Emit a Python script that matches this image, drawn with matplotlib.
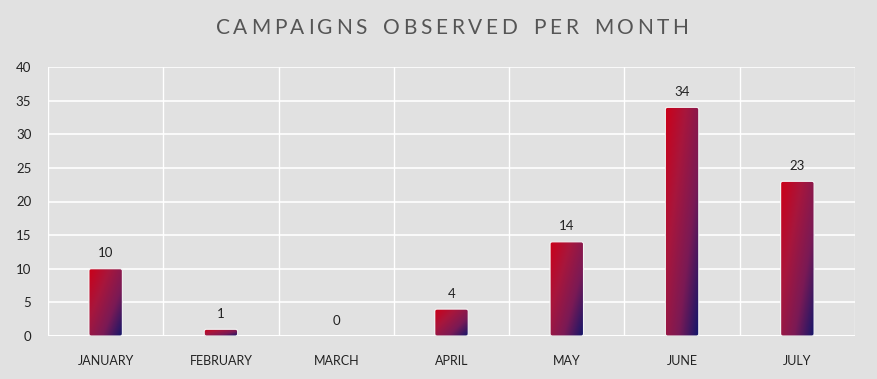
import numpy as np
import matplotlib
matplotlib.use("Agg")
import matplotlib.pyplot as plt
from matplotlib.patches import FancyBboxPatch
from matplotlib.colors import LinearSegmentedColormap

months = ["JANUARY", "FEBRUARY", "MARCH", "APRIL", "MAY", "JUNE", "JULY"]
campaigns = [10, 1, 0, 4, 14, 34, 23]
yticks = [0, 5, 10, 15, 20, 25, 30, 35, 40]
title = "CAMPAIGNS OBSERVED PER MONTH"

bg = "#e1e1e1"
W, H = 877, 379
fig = plt.figure(figsize=(W/100, H/100), dpi=100, facecolor=bg)
ax = fig.add_axes([48/W, 1-336/H, (855-48)/W, (336-67)/H])
ax.set_facecolor(bg)

n = len(months)
x = np.arange(n)
bw = 0.29
ax.set_xlim(-0.5, n-0.5)
ax.set_ylim(0, 40)

for yv in yticks:
    ax.axhline(yv, color="white", lw=1.2, zorder=0)
for b in np.arange(-0.5, n, 1.0):
    ax.axvline(b, color="white", lw=1.0, zorder=0)
ax.axhline(0, color="white", lw=2.0, zorder=1)

cmap = LinearSegmentedColormap.from_list("g", ["#cc0018", "#a8163c", "#7a1a55", "#10166a"])
bars = ax.bar(x, campaigns, width=bw, color="none", zorder=2)
for rect, v in zip(bars, campaigns):
    x0 = rect.get_x(); w = rect.get_width(); h = rect.get_height()
    if h > 0:
        gx, gy = np.meshgrid(np.linspace(0, 1, 60), np.linspace(0, 1, 200))
        t = 0.55 * gx + 0.45 * gy
        img = ax.imshow(t, cmap=cmap, extent=[x0, x0 + w, 0, h], origin="upper",
                        aspect="auto", zorder=3, vmin=0, vmax=1, interpolation="bilinear")
        patch = FancyBboxPatch((x0, 0), w, h, boxstyle="round,pad=0,rounding_size=0.02",
                               mutation_aspect=15, facecolor="none",
                               edgecolor="#f4f4f4", lw=0.8, zorder=4)
        ax.add_patch(patch)
        img.set_clip_path(patch)
    ax.text(rect.get_x() + w/2, v + 1.4, str(v), ha="center", va="bottom",
            fontsize=9.5, color="#222222", family="Lato", zorder=5)

ax.set_aspect("auto")
ax.set_xticks(x)
ax.set_xticklabels(months, fontsize=9, color="#222222", family="Lato")
ax.set_yticks(yticks)
ax.set_yticklabels([str(v) for v in yticks], fontsize=9.5, color="#222222", family="Lato")
ax.tick_params(axis="x", length=0, pad=14)
ax.tick_params(axis="y", length=0, pad=12)
for s in ax.spines.values():
    s.set_visible(False)

# Title with manual letter tracking
renderer = fig.canvas.get_renderer()
tkw = dict(fontsize=15, color="#555555", family="Lato", fontweight="normal", va="center", ha="left")
tracking = 3.6
space_w = 9.0
widths = []
for ch in title:
    if ch == " ":
        widths.append(space_w)
    else:
        t = fig.text(0, 0, ch, **tkw)
        widths.append(t.get_window_extent(renderer).width)
        t.remove()
total = sum(widths) + tracking * (len(title) - 1)
cx, cy = 452, 28
xp = cx - total / 2
for ch, wch in zip(title, widths):
    if ch != " ":
        fig.text(xp / W, 1 - cy / H, ch, **tkw)
    xp += wch + tracking

fig.savefig("out.png", dpi=100, facecolor=bg)
